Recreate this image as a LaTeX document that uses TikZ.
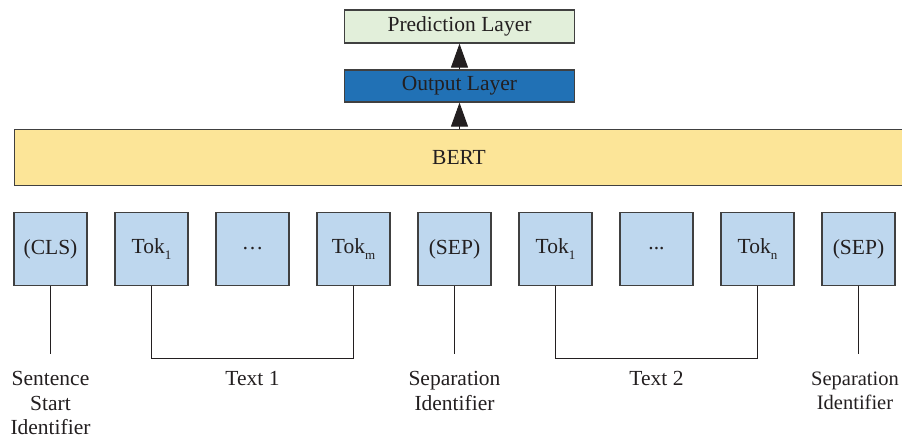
\documentclass[tikz,border=0pt]{standalone}
\usepackage{fontspec}
\setmainfont{Liberation Serif}
\usetikzlibrary{arrows.meta}
\definecolor{predfill}{RGB}{226,239,218}
\definecolor{outfill}{RGB}{33,113,181}
\definecolor{bertfill}{RGB}{252,229,152}
\definecolor{tokfill}{RGB}{190,215,238}
\definecolor{edge}{RGB}{64,64,64}
\definecolor{ink}{RGB}{35,31,32}
\tikzset{
  layerbox/.style={draw=edge, line width=1.3pt, inner sep=0pt, text=ink,
    font=\fontsize{21.5}{24}\selectfont},
  tokbox/.style={draw=edge, line width=1.3pt, fill=tokfill, inner sep=0pt,
    minimum width=73pt, minimum height=73pt, text=ink,
    font=\fontsize{21.5}{24}\selectfont},
  lbl/.style={align=center, text=ink, inner sep=0pt,
    font=\fontsize{21.5}{24.5}\selectfont},
  link/.style={draw=ink, line width=1pt},
  uparrow/.style={draw=ink, line width=1pt, -{Triangle[length=24pt,width=17pt]}}
}
\newcommand{\tokn}[1]{Tok\raisebox{-6pt}{\fontsize{13}{13}\selectfont #1}}
\begin{document}
\begin{tikzpicture}[x=1pt,y=-1pt]
\useasboundingbox (0,0) rectangle (902,438);

% top layers
\node[layerbox, fill=predfill, minimum width=230pt, minimum height=33pt] (pred) at (459.5,26.5) {Prediction Layer};
\node[layerbox, fill=outfill, minimum width=230pt, minimum height=32pt] (out) at (459.5,86) {Output Layer};
\node[layerbox, fill=bertfill, minimum width=895pt, minimum height=56pt, anchor=west] (bert) at (14,157.5) {};
\node[lbl] (bertlbl) at (459,157) {BERT};

\draw[uparrow] (bert.north -| out.south) -- (out.south);
\draw[uparrow] (out.north) -- (pred.south);

% input tokens
\node[tokbox] (cls)  at (50.5,249)  {(CLS)};
\node[tokbox] (ta1)  at (151.5,249) {\raisebox{5pt}{\tokn{1}}};
\node[tokbox] (tad)  at (252.5,249) {\dots};
\node[tokbox] (tam)  at (353.5,249) {\raisebox{5pt}{\tokn{m}}};
\node[tokbox] (sep1) at (454.5,249) {(SEP)};
\node[tokbox] (tb1)  at (555.5,249) {\raisebox{5pt}{\tokn{1}}};
\node[tokbox] (tbd)  at (656.5,249) {...};
\node[tokbox] (tbn)  at (757.5,249) {\raisebox{5pt}{\tokn{n}}};
\node[tokbox] (sep2) at (858.5,249) {(SEP)};

% bottom labels
\node[lbl, anchor=north] (lcls)  at (50.5,371.5)  {Sentence\\Start\\Identifier};
\node[lbl, anchor=north] (ltx1)  at (252.5,371.5) {Text 1};
\node[lbl, anchor=north] (lsep1) at (454.5,371.5) {Separation\\Identifier};
\node[lbl, anchor=north] (ltx2)  at (656.5,371.5) {Text 2};
\node[lbl, anchor=north, font=\fontsize{20.5}{24.5}\selectfont] (lsep2) at (855,371.5) {Separation\\Identifier};

% connectors
\coordinate (ecls)  at (50.5,354);
\coordinate (esep1) at (454.5,354);
\coordinate (esep2) at (858.5,354);
\draw[link] (cls.south) -- (ecls);
\draw[link] (sep1.south) -- (esep1);
\draw[link] (sep2.south) -- (esep2);
\draw[link] (ta1.south) -- ++(0,72) -| (tam.south);
\draw[link] (tb1.south) -- ++(0,72) -| (tbn.south);
\end{tikzpicture}
\end{document}
